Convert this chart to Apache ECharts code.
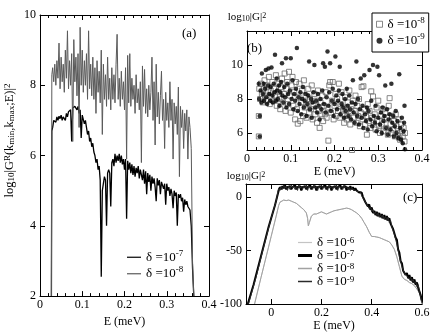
<!DOCTYPE html>
<html><head><meta charset="utf-8">
<script src="https://cdn.jsdelivr.net/npm/echarts@6/dist/echarts.min.js"></script>
<style>html,body{margin:0;padding:0;background:#fff}#c{width:436px;height:333px}</style>
</head><body><div id="c"></div>
<script>
// ---------- Panel (a) ----------
const E_a = [0.027,0.028,
0.030,0.0325,0.035,0.0375,0.040,0.0425,0.045,0.0475,0.050,0.0525,
0.055,0.0575,0.060,0.0625,0.065,0.0675,0.070,0.0725,0.075,0.0775,
0.080,0.0825,0.085,0.0875,0.090,0.0925,0.095,0.0975,0.100,0.1025,
0.105,0.1075,0.110,0.1125,0.115,0.1175,0.120,0.1225,0.125,0.1275,
0.130,0.1325,0.135,0.1375,0.140,0.1425,0.145,0.1475,0.150,0.1525,
0.155,0.1575,0.160,0.1625,0.165,0.1675,0.170,0.1725,0.175,0.1775,
0.180,0.1825,0.185,0.1875,0.190,0.1925,0.195,0.1975,0.200,0.2025,
0.205,0.2075,0.210,0.2125,0.215,0.2175,0.220,0.2225,0.225,0.2275,
0.230,0.2325,0.235,0.2375,0.240,0.2425,0.245,0.2475,0.250,0.2525,
0.255,0.2575,0.260,0.2625,0.265,0.2675,0.270,0.2725,0.275,0.2775,
0.280,0.2825,0.285,0.2875,0.290,0.2925,0.295,0.2975,0.300,0.3025,
0.305,0.3075,0.310,0.3125,0.315,0.3175,0.320,0.3225,0.325,0.3275,
0.330,0.3325,0.335,0.3375,0.340,0.3425,0.345,0.3475,0.350,0.3525,
0.355,0.358,0.361,0.364];
const a_d7 = [2,6.7,
6.8,7.0,7.05,6.95,7.1,7.0,7.12,7.05,7.15,7.0,
7.1,7.15,7.0,7.2,7.1,7.25,7.2,7.3,6.4,7.35,
7.3,7.4,7.45,7.3,7.4,7.2,7.3,6.5,7.15,7.1,
6.9,7.0,6.8,6.6,6.7,6.4,6.5,6.25,6.35,6.1,
6.0,5.8,5.9,5.6,5.7,5.3,2.55,5.0,5.2,5.4,
5.3,4.0,5.5,5.6,5.5,4.55,5.8,5.9,5.7,6.05,
5.8,6.0,5.85,6.05,5.8,6.0,5.75,5.9,5.6,5.9,
4.2,5.85,5.6,5.8,5.5,5.75,5.45,5.7,5.4,5.65,
5.5,5.7,5.35,5.6,5.45,5.3,5.6,5.2,5.55,4.9,
5.5,5.25,5.45,5.0,5.4,5.2,5.35,5.1,4.7,5.35,
5.15,5.3,4.9,5.25,5.3,5.05,5.2,4.6,5.2,5.0,
5.1,4.85,5.05,4.9,4.5,5.0,4.85,4.95,4.0,4.9,
4.8,4.9,4.7,4.8,4.4,4.75,4.6,4.7,4.55,4.5,
4.45,4.0,2.8,2.0];
const a_d8 = [2,8.3,
8.5,8.1,8.6,8.0,8.7,8.2,9.2,7.9,8.8,8.1,
8.6,7.8,9.0,8.2,9.55,7.9,8.7,8.0,8.9,6.4,
9.3,8.1,8.8,7.7,8.9,6.8,9.65,8.0,9.0,7.8,
8.7,8.0,8.9,7.6,9.55,7.9,8.6,7.7,8.8,7.6,
8.5,7.2,8.7,7.8,8.4,7.5,9.0,6.6,8.6,7.6,
8.3,7.4,8.8,7.6,8.2,7.3,8.5,7.6,8.3,7.5,
8.6,9.45,7.6,8.2,7.4,8.4,7.6,8.1,7.3,8.5,
5.9,8.85,7.5,8.9,7.4,8.2,7.6,8.0,7.2,8.3,
7.5,7.9,7.3,8.1,5.8,8.55,7.4,8.45,7.2,7.9,
7.1,8.0,7.3,7.8,8.8,7.0,8.1,6.3,8.6,7.1,
7.8,6.9,7.7,8.4,7.0,7.6,6.2,7.8,7.0,7.5,
6.8,8.1,7.0,7.6,5.9,7.5,6.9,7.4,6.6,7.95,
5.4,7.4,6.8,7.3,6.2,7.2,6.7,7.3,5.9,7.1,
6.8,6.2,3.0,2.0];

// ---------- Panel (b) ----------
const b_d8 = [[0.027,7.0],[0.027,5.8],[0.028,8.6],[0.030,8.0],[0.032,8.9],[0.034,8.3],[0.036,7.8],[0.038,8.6],[0.040,9.1],[0.042,8.2],[0.044,7.9],[0.046,8.8],[0.048,8.4],[0.050,9.3],[0.052,7.7],[0.054,8.5],[0.056,8.1],[0.058,9.0],[0.060,7.9],[0.062,8.6],[0.064,8.2],[0.066,9.4],[0.068,7.6],[0.070,8.4],[0.072,8.9],[0.074,8.0],[0.076,7.4],[0.078,8.7],[0.080,9.2],[0.082,7.8],[0.084,8.3],[0.086,9.5],[0.088,7.3],[0.090,8.6],[0.092,9.0],[0.094,7.7],[0.096,9.6],[0.098,8.2],[0.100,7.2],[0.102,8.8],[0.104,9.3],[0.106,7.6],[0.108,8.4],[0.110,6.8],[0.112,9.0],[0.114,7.4],[0.116,6.55],[0.118,8.1],[0.120,8.9],[0.122,6.7],[0.124,7.8],[0.126,8.5],[0.128,7.0],[0.130,9.1],[0.132,7.5],[0.134,8.2],[0.136,6.9],[0.138,7.7],[0.140,8.6],[0.142,7.2],[0.144,8.0],[0.146,7.4],[0.148,8.8],[0.150,6.8],[0.152,7.6],[0.154,8.3],[0.156,7.1],[0.158,7.9],[0.160,6.6],[0.162,8.5],[0.164,7.3],[0.166,6.3],[0.168,7.8],[0.170,7.1],[0.172,8.2],[0.174,6.7],[0.176,7.6],[0.178,7.1],[0.180,8.4],[0.182,6.9],[0.184,7.5],[0.186,5.55],[0.188,8.8],[0.190,9.0],[0.192,7.2],[0.194,7.9],[0.196,9.0],[0.198,6.8],[0.200,7.6],[0.202,8.3],[0.204,7.0],[0.206,8.0],[0.208,7.3],[0.210,8.9],[0.212,6.9],[0.214,7.7],[0.216,8.4],[0.218,7.1],[0.220,7.5],[0.222,6.6],[0.224,8.1],[0.226,7.3],[0.228,6.8],[0.230,7.8],[0.232,7.0],[0.234,8.5],[0.236,6.5],[0.238,7.4],[0.240,5.0],[0.242,7.9],[0.244,6.9],[0.246,7.3],[0.248,8.2],[0.250,6.6],[0.252,7.6],[0.254,7.0],[0.256,8.0],[0.258,6.4],[0.260,7.2],[0.262,8.7],[0.264,6.8],[0.266,8.75],[0.268,7.4],[0.270,6.5],[0.272,7.0],[0.274,5.9],[0.276,7.7],[0.278,6.7],[0.280,7.3],[0.282,6.3],[0.284,8.45],[0.286,6.9],[0.288,8.15],[0.290,6.6],[0.292,7.1],[0.294,6.2],[0.296,7.5],[0.298,6.7],[0.300,7.9],[0.302,6.4],[0.304,6.0],[0.306,7.0],[0.308,6.5],[0.310,7.4],[0.312,6.1],[0.314,6.8],[0.316,7.2],[0.318,6.3],[0.320,6.9],[0.322,5.9],[0.324,7.6],[0.326,8.05],[0.328,6.5],[0.330,6.0],[0.332,7.0],[0.334,6.2],[0.336,6.7],[0.338,5.8],[0.340,7.1],[0.342,6.4],[0.344,6.0],[0.346,6.8],[0.348,5.7],[0.350,5.6],[0.352,6.5],[0.354,6.1],[0.356,5.8],[0.358,6.3],[0.360,5.5],[0.361,6.0]];
const b_d9 = [[0.027,8.9],[0.028,8.0],[0.029,7.0],[0.029,5.8],[0.031,8.5],[0.033,7.8],[0.034,9.5],[0.036,8.3],[0.038,8.9],[0.039,7.9],[0.041,8.6],[0.043,9.7],[0.044,8.1],[0.046,7.7],[0.048,8.8],[0.049,9.8],[0.051,8.3],[0.053,7.9],[0.054,8.7],[0.056,9.85],[0.058,8.2],[0.059,7.8],[0.061,8.9],[0.063,8.4],[0.064,10.6],[0.066,7.9],[0.068,9.2],[0.069,8.5],[0.071,8.0],[0.073,8.8],[0.074,7.6],[0.076,8.4],[0.078,9.0],[0.080,10.1],[0.081,8.2],[0.083,7.8],[0.085,8.7],[0.087,8.1],[0.089,10.4],[0.090,7.5],[0.092,8.9],[0.094,8.3],[0.096,7.7],[0.098,8.5],[0.100,10.4],[0.102,8.0],[0.104,9.1],[0.106,7.4],[0.108,8.3],[0.110,7.9],[0.112,8.6],[0.114,11.0],[0.116,7.3],[0.118,8.1],[0.120,7.7],[0.122,8.4],[0.124,7.1],[0.126,8.0],[0.128,8.7],[0.130,7.5],[0.132,7.9],[0.134,8.3],[0.136,7.0],[0.138,7.7],[0.140,8.2],[0.142,10.2],[0.144,7.4],[0.146,8.0],[0.148,6.9],[0.150,7.8],[0.152,8.4],[0.154,10.0],[0.156,7.5],[0.158,7.9],[0.160,7.2],[0.162,8.3],[0.164,7.6],[0.166,6.8],[0.168,8.0],[0.170,7.4],[0.172,8.5],[0.174,10.1],[0.176,7.7],[0.178,9.9],[0.180,7.2],[0.182,8.1],[0.184,10.8],[0.186,7.6],[0.188,8.4],[0.190,10.1],[0.192,7.3],[0.194,7.9],[0.196,8.6],[0.198,7.0],[0.200,7.7],[0.202,10.5],[0.204,8.2],[0.206,7.4],[0.208,7.9],[0.210,8.5],[0.212,9.9],[0.214,7.1],[0.216,7.7],[0.218,8.3],[0.220,7.5],[0.222,6.9],[0.224,8.0],[0.226,7.3],[0.228,8.6],[0.230,7.6],[0.232,7.0],[0.234,8.2],[0.236,7.4],[0.238,6.8],[0.240,7.8],[0.242,9.1],[0.244,7.2],[0.246,6.6],[0.248,7.7],[0.250,10.2],[0.252,7.0],[0.254,8.0],[0.256,6.5],[0.258,7.4],[0.260,9.2],[0.262,6.9],[0.264,7.6],[0.266,6.3],[0.268,9.4],[0.270,7.1],[0.272,6.7],[0.274,7.5],[0.276,6.2],[0.278,7.3],[0.280,9.7],[0.282,6.8],[0.284,7.9],[0.286,6.4],[0.288,10.0],[0.290,7.0],[0.292,6.6],[0.294,7.6],[0.296,6.1],[0.298,9.9],[0.300,6.9],[0.302,9.4],[0.304,6.5],[0.306,7.2],[0.308,6.0],[0.310,7.5],[0.312,6.7],[0.314,7.0],[0.316,8.8],[0.318,6.3],[0.320,7.4],[0.322,5.9],[0.324,6.8],[0.326,7.1],[0.328,6.2],[0.330,8.9],[0.332,6.6],[0.334,7.0],[0.336,5.8],[0.338,6.4],[0.340,7.3],[0.342,6.0],[0.344,6.7],[0.346,5.7],[0.348,9.45],[0.350,6.3],[0.352,5.6],[0.354,6.9],[0.356,5.4],[0.358,6.1],[0.360,7.6],[0.361,5.05],[0.359,6.6]];

// ---------- Panel (c) ----------
const E_c = [0.030,0.035,0.040,0.045,0.050,0.055,0.060,0.065,0.070,0.075,
0.080,0.085,0.090,0.095,0.100,0.105,0.110,0.115,0.120,0.125,
0.130,0.135,0.140,0.145,0.150,0.155,0.160,0.165,0.170,0.175,
0.180,0.185,0.190,0.195,0.200,0.205,0.210,0.215,0.220,0.225,
0.230,0.235,0.240,0.245,0.250,0.255,0.260,0.265,0.270,0.275,
0.280,0.285,0.290,0.295,0.300,0.305,0.310,0.315,0.320,0.325,
0.330,0.335,0.340,0.345,0.350,0.355,0.360,0.365,0.370,0.375,
0.380,0.385,0.390,0.395,0.400,0.405,0.410,0.415,0.420,0.425,
0.430,0.435,0.440,0.445,0.450,0.455,0.460,0.465,0.470,0.475,
0.480,0.485,0.490,0.495,0.500,0.505,0.510,0.515,0.520,0.525,
0.530,0.535,0.540,0.545,0.550,0.555,0.560,0.565,0.570,0.575,
0.580,0.585,0.590,0.595,0.600];
const c_rise_d7 = [[-0.093,-100],[-0.07,-82],[-0.04,-55],[-0.01,-28],[0.015,-8],[0.028,4]];
const c_d7 = [6,9,7,10,8,11,7,9,8,10,
7,9,8,11,7,9,8,10,6,9,
8,10,7,9,8,11,7,9,8,10,
6,9,8,10,7,9,8,11,7,9,
8,10,6,9,8,10,7,9,8,11,
7,9,8,10,6,9,7,10,7,9,
6,8,6,7,4,3,4,0,1,-5,
-4,-9,-7,-12,-10,-15,-13,-17,-14,-18,
-15,-19,-16,-20,-17,-21,-18,-22,-20,-25,
-24,-30,-31,-38,-40,-49,-52,-60,-62,-69,
-68,-73,-71,-76,-73,-78,-75,-80,-77,-82,
-80,-85,-84,-92,-97];
const c_rise_d9 = [[-0.09,-100],[-0.06,-75],[-0.03,-47],[0,-20],[0.02,-4],[0.028,6]];
const c_d9 = [8,6,10,7,11,8,10,6,10,7,
11,8,10,7,10,6,11,8,10,7,
10,8,11,6,10,8,10,7,11,8,
10,6,10,8,11,7,10,8,10,6,
11,8,10,7,10,8,11,6,10,8,
10,7,11,8,10,7,9,6,9,7,
8,6,7,5,6,5,1,2,-3,-2,
-7,-6,-11,-9,-14,-12,-16,-14,-18,-15,
-19,-16,-20,-17,-21,-18,-22,-19,-24,-22,
-28,-27,-35,-34,-44,-45,-56,-56,-65,-65,
-71,-70,-74,-73,-77,-75,-79,-77,-81,-79,
-84,-82,-88,-89,-99];
const c_d8 = [[-0.066,-100],[-0.04,-75],[-0.02,-56],[0,-37],[0.02,-18],[0.03,-8],[0.035,-5],[0.04,-3.5],[0.05,-3],[0.06,-3.5],[0.07,-3],[0.08,-4],[0.09,-5],[0.1,-6],[0.11,-8],[0.12,-10],[0.13,-12],[0.14,-15],[0.145,-20],[0.148,-27],[0.152,-24],[0.16,-18],[0.17,-16],[0.18,-16],[0.19,-15],[0.2,-14],[0.21,-15],[0.22,-16],[0.23,-15],[0.24,-14],[0.25,-13],[0.26,-12.5],[0.27,-12],[0.28,-11.5],[0.29,-11],[0.3,-10.5],[0.31,-11],[0.32,-12],[0.33,-13.5],[0.34,-15],[0.35,-17],[0.36,-20],[0.37,-24],[0.38,-28],[0.39,-33],[0.4,-37],[0.41,-37],[0.42,-37.5],[0.43,-38],[0.44,-39],[0.45,-40],[0.46,-41],[0.47,-42],[0.48,-45],[0.49,-49],[0.5,-56],[0.51,-65],[0.52,-74],[0.53,-77],[0.54,-78],[0.55,-80],[0.56,-81],[0.57,-83],[0.58,-86],[0.59,-90],[0.6,-100]];
const c_d6 = c_d8;

const names = {a7:'δ =10-7', a8:'δ =10-8', b8:'δ =10-8 ', b9:'δ =10-9 ', c6:'δ =10-6  ', c7:'δ =10-7  ', c8:'δ =10-8  ', c9:'δ =10-9  '};

// ---------- build ----------
const FONT = '"Liberation Serif","DejaVu Serif",serif';
const zip = (xs, ys) => xs.map((x, i) => [x, ys[i]]);
const richSS = {
  sub: {fontFamily: FONT, fontSize: 8, verticalAlign: 'bottom', lineHeight: 8, padding: [6,0,0,0]},
  sup: {fontFamily: FONT, fontSize: 8, verticalAlign: 'top', lineHeight: 8, padding: [0,0,6,0]}
};
const richSSa = {
  sub: {fontFamily: FONT, fontSize: 9, verticalAlign: 'bottom', lineHeight: 9, padding: [6,0,0,0]},
  sup: {fontFamily: FONT, fontSize: 9, verticalAlign: 'top', lineHeight: 9, padding: [0,0,6,0]}
};
const fmtDelta = n => n.trim().replace(/10(-\d)/, '10{sup|$1}');
const legText = lh => ({fontFamily: FONT, fontSize: 13, color: '#000', lineHeight: lh,
  rich: {sup: {fontFamily: FONT, fontSize: 9, verticalAlign: 'top', lineHeight: lh - 4}}});
const lineIcon = t => 'path://M0,0H14V' + t + 'H0Z';

function xAx(grid, pos, min, max, opts) {
  const lbl = pos === 'bottom';
  const o = {
    type: 'value', gridIndex: grid, position: pos, min, max,
    axisLine: {show: true, onZero: false, lineStyle: {color: '#000', width: 1}},
    axisTick: {show: true, inside: true, length: 5, lineStyle: {color: '#000'}},
    axisLabel: {show: lbl, margin: 3, color: '#000', fontFamily: FONT, fontSize: 12},
    splitLine: {show: false}
  };
  return Object.assign(o, opts || {});
}
function yAx(grid, pos, min, max, opts) {
  const lbl = pos === 'left';
  const o = {
    type: 'value', gridIndex: grid, position: pos, min, max,
    axisLine: {show: true, onZero: false, lineStyle: {color: '#000', width: 1}},
    axisTick: {show: true, inside: true, length: 5, lineStyle: {color: '#000'}},
    axisLabel: {show: lbl, margin: 4, color: '#000', fontFamily: FONT, fontSize: 12},
    splitLine: {show: false}
  };
  return Object.assign(o, opts || {});
}
const minor = {show: true, splitNumber: 5, length: 3, lineStyle: {color: '#000'}};
const xName = {name: 'E (meV)', nameLocation: 'middle', nameGap: 15, nameTextStyle: {fontFamily: FONT, fontSize: 12, color: '#000'}};
const ticksC = [0, 0.2, 0.4, 0.6];
const ticksBy = [6, 8, 10];
const ticksCy = [-100, -50, 0];

const option = {
  animation: false,
  backgroundColor: '#fff',
  grid: [
    {left: 39, top: 15, width: 170, height: 288},
    {left: 247, top: 31, width: 175, height: 119},
    {left: 246, top: 184, width: 176, height: 120}
  ],
  xAxis: [
    xAx(0, 'bottom', 0, 0.4, Object.assign({interval: 0.1, minorTick: minor}, xName)),
    xAx(0, 'top', 0, 0.4, {interval: 0.1, minorTick: minor}),
    xAx(1, 'bottom', 0, 0.4, Object.assign({interval: 0.1, minorTick: minor}, xName, {nameGap: 10})),
    xAx(1, 'top', 0, 0.4, {interval: 0.1, minorTick: minor}),
    xAx(2, 'bottom', -0.1, 0.6, Object.assign({}, xName, {nameGap: 14})),
    xAx(2, 'top', -0.1, 0.6, {})
  ],
  yAxis: [
    yAx(0, 'left', 2, 10, {interval: 2,
      name: 'log{sub|10}|G{sup|R}(k{sub|min},k{sub|max};E)|{sup|2}', nameLocation: 'middle', nameRotate: 90, nameGap: 24,
      nameTextStyle: {fontFamily: FONT, fontSize: 12.5, color: '#000', rich: richSSa, padding: [0, 0, 0, 30]}}),
    yAx(0, 'right', 2, 10, {interval: 2}),
    yAx(1, 'left', 5, 12, {name: 'log{sub|10}|G|{sup|2}', nameLocation: 'end', nameGap: 8,
      nameTextStyle: {fontFamily: FONT, fontSize: 11, color: '#000', rich: richSS}}),
    yAx(1, 'right', 5, 12, {}),
    yAx(2, 'left', -100, 12, {name: 'log{sub|10}|G|{sup|2}', nameLocation: 'end', nameGap: 2,
      nameTextStyle: {fontFamily: FONT, fontSize: 11, color: '#000', rich: richSS}}),
    yAx(2, 'right', -100, 12, {})
  ],
  legend: [
    {left: 127, top: 249, orient: 'vertical', itemGap: 0, itemWidth: 14, itemHeight: 10, padding: 0,
     data: [{name: names.a7, icon: lineIcon(1.2)}, {name: names.a8, icon: lineIcon(1.2)}], formatter: fmtDelta,
     textStyle: legText(16.5)},
    {left: 372, top: 13, orient: 'vertical', itemGap: 0, itemWidth: 6, itemHeight: 6,
     padding: [3, 4, 3, 4], borderColor: '#000', borderWidth: 1, backgroundColor: '#fff',
     data: [{name: names.b8, icon: 'rect', itemStyle: {color: 'rgba(255,255,255,0)', borderColor: '#6a6a6a', borderWidth: 1}},
            {name: names.b9, icon: 'circle'}], formatter: fmtDelta,
     textStyle: legText(16.5)},
    {left: 298, top: 236, orient: 'vertical', itemGap: 0, itemWidth: 14, itemHeight: 10, padding: 0,
     data: [{name: names.c6, icon: lineIcon(1.2)}, {name: names.c7, icon: lineIcon(3)}, {name: names.c8, icon: lineIcon(1.5)}, {name: names.c9, icon: lineIcon(1.5)}],
     formatter: fmtDelta, textStyle: legText(13)}
  ],
  graphic: [
    {type: 'text', left: 182, top: 27, style: {text: '(a)', font: '13px ' + FONT, fill: '#000'}},
    {type: 'text', left: 247, top: 42, style: {text: '(b)', font: '13px ' + FONT, fill: '#000'}},
    {type: 'text', left: 403, top: 191, style: {text: '(c)', font: '13px ' + FONT, fill: '#000'}}
  ],
  series: [
    {name: names.a7, type: 'line', xAxisIndex: 0, yAxisIndex: 0, data: zip(E_a, a_d7), symbol: 'none', lineStyle: {color: '#000', width: 1.3}, itemStyle: {color: '#000'}, clip: true},
    {name: names.a8, type: 'line', xAxisIndex: 0, yAxisIndex: 0, data: zip(E_a, a_d8), symbol: 'none', lineStyle: {color: '#5a5a5a', width: 1}, itemStyle: {color: '#5a5a5a'}, clip: true},
    {name: names.b8, type: 'scatter', xAxisIndex: 2, yAxisIndex: 2, data: b_d8, symbol: 'rect', symbolSize: 5,
     itemStyle: {color: 'rgba(255,255,255,0)', borderColor: '#6a6a6a', borderWidth: 1}},
    {name: names.b9, type: 'scatter', xAxisIndex: 2, yAxisIndex: 2, data: b_d9, symbol: 'circle', symbolSize: 4.5,
     itemStyle: {color: '#000'}},
    {name: names.c6, type: 'line', xAxisIndex: 4, yAxisIndex: 4, data: c_d6, symbol: 'none', lineStyle: {color: '#c4c4c4', width: 1}, itemStyle: {color: '#c4c4c4'}},
    {name: names.c8, type: 'line', xAxisIndex: 4, yAxisIndex: 4, data: c_d8, symbol: 'none', lineStyle: {color: '#a2a2a2', width: 1}, itemStyle: {color: '#a2a2a2'}},
    {name: names.c7, type: 'line', xAxisIndex: 4, yAxisIndex: 4, data: c_rise_d7.concat(zip(E_c, c_d7)), symbol: 'none', lineStyle: {color: '#000', width: 2}, itemStyle: {color: '#000'}, clip: true},
    {name: names.c9, type: 'line', xAxisIndex: 4, yAxisIndex: 4, data: c_rise_d9.concat(zip(E_c, c_d9)), symbol: 'none', lineStyle: {color: '#2a2a2a', width: 1}, itemStyle: {color: '#2a2a2a'}, clip: true}
  ]
};
// tick placements for panels (b) y and (c)
option.yAxis[2].axisLabel.customValues = ticksBy; option.yAxis[2].axisTick.customValues = ticksBy;
option.yAxis[3].axisTick.customValues = ticksBy;
option.yAxis[4].axisLabel.customValues = ticksCy; option.yAxis[4].axisTick.customValues = ticksCy;
option.yAxis[5].axisTick.customValues = ticksCy;
option.xAxis[4].axisLabel.customValues = ticksC; option.xAxis[4].axisTick.customValues = ticksC;
option.xAxis[5].axisTick.customValues = ticksC;

const chart = echarts.init(document.getElementById('c'), null, {renderer: 'canvas'});
chart.setOption(option);
</script>
</body></html>
